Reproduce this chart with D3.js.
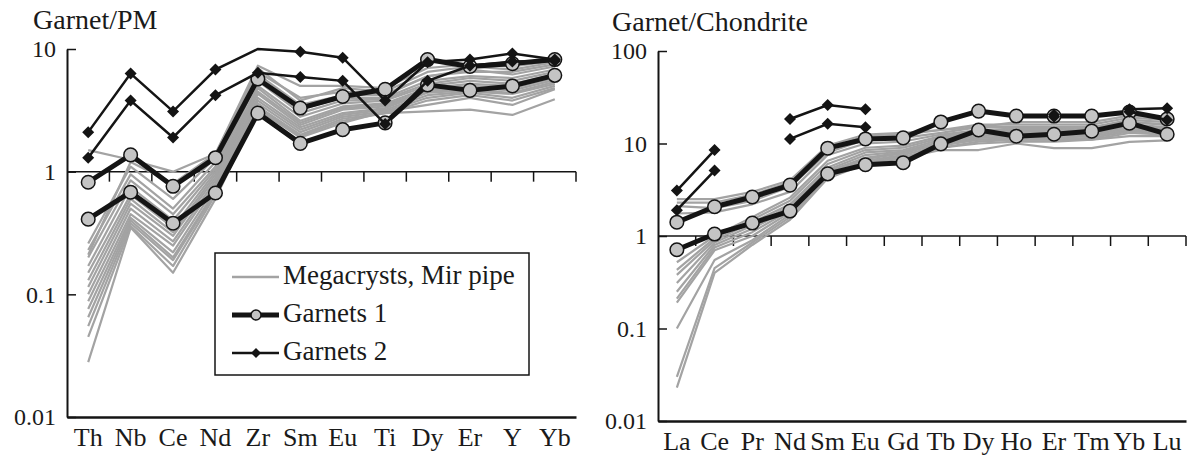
<!DOCTYPE html>
<html>
<head>
<meta charset="utf-8">
<script src="https://cdn.jsdelivr.net/npm/d3@7"></script>
<style>
  html, body { margin: 0; padding: 0; background: #fff; }
  svg { display: block; }
</style>
</head>
<body>
<svg id="chart" width="1191" height="456"></svg>
<script>
// ---------------- DATA ----------------
const pmElements = ["Th", "Nb", "Ce", "Nd", "Zr", "Sm", "Eu", "Ti", "Dy", "Er", "Y", "Yb"];
const chElements = ["La", "Ce", "Pr", "Nd", "Sm", "Eu", "Gd", "Tb", "Dy", "Ho", "Er", "Tm", "Yb", "Lu"];

const pmTicks = [0.01, 0.1, 1, 10];
const pmTickLabels = ["0.01", "0.1", "1", "10"];
const chTicks = [0.01, 0.1, 1, 10, 100];
const chTickLabels = ["0.01", "0.1", "1", "10", "100"];

const legendLabels = ["Megacrysts, Mir pipe", "Garnets 1", "Garnets 2"];
const pmTitle = "Garnet/PM";
const chTitle = "Garnet/Chondrite";

// Megacrysts, Mir pipe (primitive-mantle normalised)
const pmMegacrysts = [
  [1.5, 1.25, 1.0, 1.4, 6.5, 4.0, 4.5, 4.3, 6.0, 6.5, 6.5, 7.5],
  [0.26, 1.1, 0.6, 1.3, 7.0, 3.8, 4.8, 4.5, 6.5, 7.2, 6.8, 7.8],
  [0.23, 0.95, 0.5, 1.2, 6.2, 3.5, 4.2, 4.2, 6.0, 6.8, 6.2, 7.2],
  [0.2, 0.85, 0.45, 1.1, 5.8, 3.2, 4.0, 4.0, 5.5, 6.0, 5.8, 6.8],
  [0.17, 0.75, 0.4, 1.05, 5.5, 3.0, 3.8, 3.9, 5.2, 5.8, 5.5, 6.5],
  [0.15, 0.65, 0.35, 1.0, 5.0, 2.8, 3.6, 3.8, 5.0, 5.5, 5.2, 6.2],
  [0.13, 0.6, 0.32, 0.95, 4.8, 2.6, 3.4, 3.6, 4.8, 5.2, 5.0, 6.0],
  [0.115, 0.55, 0.3, 0.9, 4.5, 2.5, 3.3, 3.5, 4.6, 5.0, 4.8, 5.8],
  [0.1, 0.5, 0.27, 0.85, 4.3, 2.4, 3.2, 3.4, 4.5, 4.8, 4.6, 5.6],
  [0.088, 0.45, 0.25, 0.8, 4.0, 2.3, 3.0, 3.3, 4.4, 4.6, 4.4, 5.4],
  [0.076, 0.42, 0.22, 0.75, 3.8, 2.2, 2.9, 3.2, 4.2, 4.5, 4.3, 5.2],
  [0.065, 0.4, 0.2, 0.7, 3.6, 2.1, 2.8, 3.1, 4.0, 4.4, 4.0, 5.0],
  [0.055, 0.38, 0.19, 0.68, 3.4, 2.0, 2.7, 3.0, 3.8, 4.2, 3.8, 4.8],
  [0.045, 0.36, 0.17, 0.65, 3.3, 1.95, 2.6, 3.0, 3.1, 3.2, 2.9, 3.9],
  [0.028, 0.35, 0.15, 0.6, 3.2, 1.9, 2.5, 3.1, 3.5, 4.0, 3.5, 4.7],
  [0.21, 1.2, 0.8, 1.4, 7.3, 5.0, 5.0, 4.8, 7.0, 7.5, 7.2, 8.0]
];
// Garnets 1 (PM)
const pmGarnets1a = [0.82, 1.37, 0.76, 1.3, 5.7, 3.3, 4.1, 4.7, 8.2, 7.2, 7.6, 8.2];
const pmGarnets1b = [0.41, 0.68, 0.38, 0.67, 3.0, 1.7, 2.2, 2.5, 5.1, 4.6, 5.0, 6.1];
// Garnets 2 (PM)
const pmGarnets2a = [2.1, 6.3, 3.1, 6.8, 10.0, 9.5, 8.5, 3.8, 7.8, 8.2, 9.2, 8.2];
const pmGarnets2b = [1.3, 3.8, 1.9, 4.2, 6.4, 5.9, 5.5, 2.45, 5.5, 7.3, 7.9, 8.0];
const pmGarnets2aUnmarked = ["Zr"];

// Megacrysts, Mir pipe (chondrite normalised)
const chMegacrysts = [
  [2.5, 2.5, 3.0, 4.0, 9.5, 12.5, 13, 14, 15, 17, 17, 17, 20, 19],
  [2.3, 2.3, 2.8, 3.8, 9.0, 12, 12.5, 14, 16, 16, 16, 16, 19, 18],
  [2.1, 2.0, 2.4, 3.4, 8.0, 11, 11.5, 13, 15, 15, 15, 15, 18, 17],
  [1.75, 1.8, 2.2, 3.0, 7.5, 10, 10.5, 12.5, 14, 14.5, 14.5, 15, 17, 16],
  [0.52, 1.0, 1.6, 2.6, 6.5, 9, 9.5, 12, 13.5, 14, 14, 14.5, 17, 16],
  [0.43, 0.95, 1.5, 2.4, 6.0, 8.5, 9.0, 11.5, 13, 13.5, 13.5, 14, 16, 15],
  [0.38, 0.9, 1.4, 2.2, 5.5, 8.0, 8.5, 11, 12.5, 13, 13, 13.5, 15.5, 14.5],
  [0.31, 0.85, 1.3, 2.1, 5.2, 7.5, 8.2, 10.5, 12, 12.5, 12.5, 13, 15, 14],
  [0.25, 0.8, 1.2, 2.0, 5.0, 7.0, 8.0, 10, 11.5, 12, 12, 12.5, 14.5, 14],
  [0.21, 0.75, 1.1, 1.9, 4.8, 6.8, 7.8, 10, 11, 11.5, 11.5, 12, 14, 13],
  [0.19, 0.7, 1.0, 1.8, 4.6, 6.5, 7.5, 9.5, 11, 11, 11, 11.5, 13.5, 13],
  [0.1, 0.55, 0.9, 1.7, 4.5, 6.5, 7.2, 9, 10.5, 11, 11, 11, 13, 12.5],
  [0.03, 0.45, 0.85, 1.6, 4.3, 6.2, 7.0, 8.5, 8.5, 10, 8.9, 8.9, 10.4, 10.8],
  [0.023, 0.4, 0.8, 1.5, 4.2, 6.0, 7.0, 9.0, 10, 10.5, 10.5, 11, 12, 12]
];
// Garnets 1 (chondrite)
const chGarnets1a = [1.41, 2.07, 2.64, 3.55, 8.9, 11.2, 11.5, 17.1, 22.4, 19.8, 19.8, 19.8, 21.9, 18.4];
const chGarnets1b = [0.71, 1.05, 1.38, 1.86, 4.7, 5.9, 6.2, 9.9, 14.0, 12.0, 12.6, 13.6, 16.6, 12.6];
// Garnets 2 (chondrite) - null = not analysed
const chGarnets2a = [3.1, 8.5, null, 18.4, 26, 23.5, null, null, null, null, 20.5, null, 23.5, 24];
const chGarnets2b = [1.9, 5.1, null, 11.2, 16.3, 15.0, null, null, null, null, 19.5, null, 22, 18];

// ---------------- DRAWING ----------------
const FONT = "'Liberation Serif', 'DejaVu Serif', 'Noto Serif', serif";
const svg = d3.select("#chart").attr("font-family", FONT);
svg.append("rect").attr("width", 1191).attr("height", 456).attr("fill", "#fff");

const GRAY = "#a3a3a3";
const DARK = "#141414";
const CIRCLE_FILL = "#c4c4c4";
const TXT = "#1a1a1a";

function styleText(sel, size) {
  sel.attr("font-size", size).attr("font-family", FONT)
    .style("font-family", FONT).attr("fill", TXT);
}

function diamondPath(h) { return `M0,${-h}L${h},0L0,${h}L${-h},0Z`; }

function drawPanel(cfg) {
  const g = svg.append("g");
  const x = d3.scaleBand().domain(cfg.elements).range(cfg.xRange).paddingInner(0).paddingOuter(0);
  const y = d3.scaleLog().domain(cfg.yDomain).range(cfg.yRange);
  const cx = e => x(e) + x.bandwidth() / 2;

  // Title
  styleText(g.append("text").attr("x", cfg.titleX).attr("y", cfg.titleY).text(cfg.title), 28);

  // Y axis
  const yAxis = d3.axisLeft(y).tickValues(cfg.ticks)
    .tickFormat((d, i) => cfg.tickLabels[i])
    .tickSize(-9).tickSizeOuter(0).tickPadding(11);
  const ya = g.append("g").attr("transform", `translate(${cfg.xRange[0]},0)`).call(yAxis);
  ya.attr("font-family", FONT);
  ya.select(".domain").attr("stroke", DARK).attr("stroke-width", 2);
  ya.selectAll(".tick line").attr("stroke", DARK).attr("stroke-width", 1.5);
  styleText(ya.selectAll(".tick text"), 24);

  // Bottom axis (category labels)
  const xAxis = d3.axisBottom(x).tickSize(0).tickSizeOuter(0).tickPadding(11);
  const xa = g.append("g").attr("transform", `translate(0,${cfg.yRange[0]})`).call(xAxis);
  xa.attr("font-family", FONT);
  xa.select(".domain").attr("stroke", DARK).attr("stroke-width", 2.5);
  styleText(xa.selectAll(".tick text"), 26);

  // Reference line at 1 with band-boundary ticks
  const y1 = y(1);
  g.append("line").attr("x1", cfg.xRange[0]).attr("x2", cfg.xRange[1])
    .attr("y1", y1).attr("y2", y1).attr("stroke", DARK).attr("stroke-width", 1.5);
  const bounds = cfg.elements.slice(1).map(e => x(e)).concat([cfg.xRange[1]]);
  g.selectAll(".btick").data(bounds).join("line")
    .attr("x1", d => d).attr("x2", d => d).attr("y1", y1).attr("y2", y1 + 10)
    .attr("stroke", DARK).attr("stroke-width", 1.5);

  const line = d3.line()
    .defined(d => d.v != null)
    .x(d => cx(d.e)).y(d => y(d.v));
  const toPts = arr => arr.map((v, i) => ({ e: cfg.elements[i], v }));

  // Megacrysts
  g.selectAll(".mega").data(cfg.mega).join("path")
    .attr("d", d => line(toPts(d)))
    .attr("fill", "none").attr("stroke", GRAY).attr("stroke-width", 2.2)
    .attr("stroke-linejoin", "round");

  // Garnets 1
  cfg.g1.forEach(s => {
    g.append("path").attr("d", line(toPts(s)))
      .attr("fill", "none").attr("stroke", DARK).attr("stroke-width", 5)
      .attr("stroke-linejoin", "round");
  });
  cfg.g1.forEach(s => {
    g.selectAll(null).data(toPts(s).filter(d => d.v != null)).join("circle")
      .attr("cx", d => cx(d.e)).attr("cy", d => y(d.v)).attr("r", 6.8)
      .attr("fill", CIRCLE_FILL).attr("stroke", DARK).attr("stroke-width", 1.5);
  });

  // Garnets 2
  cfg.g2.forEach((s, k) => {
    g.append("path").attr("d", line(toPts(s)))
      .attr("fill", "none").attr("stroke", DARK).attr("stroke-width", 2.5)
      .attr("stroke-linejoin", "miter");
    const skip = (cfg.g2Unmarked && cfg.g2Unmarked[k]) || [];
    g.selectAll(null).data(toPts(s).filter(d => d.v != null && !skip.includes(d.e))).join("path")
      .attr("transform", d => `translate(${cx(d.e)},${y(d.v)})`)
      .attr("d", diamondPath(6)).attr("fill", DARK);
  });

  return { g, x, y };
}

drawPanel({
  elements: pmElements, xRange: [67, 576], yDomain: [0.01, 10], yRange: [417, 49],
  ticks: pmTicks, tickLabels: pmTickLabels, title: pmTitle, titleX: 33, titleY: 29,
  mega: pmMegacrysts, g1: [pmGarnets1a, pmGarnets1b], g2: [pmGarnets2a, pmGarnets2b],
  g2Unmarked: [pmGarnets2aUnmarked, []]
});

drawPanel({
  elements: chElements, xRange: [658, 1186], yDomain: [0.01, 100], yRange: [421, 51],
  ticks: chTicks, tickLabels: chTickLabels, title: chTitle, titleX: 612, titleY: 31,
  mega: chMegacrysts, g1: [chGarnets1a, chGarnets1b], g2: [chGarnets2a, chGarnets2b]
});

// Legend
const lg = svg.append("g");
lg.append("rect").attr("x", 215).attr("y", 253).attr("width", 314).attr("height", 122)
  .attr("fill", "#fff").attr("stroke", DARK).attr("stroke-width", 1.5);
const legendY = [277, 315, 353];
const legendTypes = ["mega", "g1", "g2"];
legendTypes.forEach((t, i) => {
  const yy = legendY[i];
  lg.append("line").attr("x1", 232).attr("x2", 279).attr("y1", yy).attr("y2", yy)
    .attr("stroke", t === "mega" ? GRAY : DARK)
    .attr("stroke-width", t === "mega" ? 2.5 : (t === "g1" ? 5 : 2.5));
  if (t === "g1") {
    lg.append("circle").attr("cx", 256).attr("cy", yy).attr("r", 5)
      .attr("fill", CIRCLE_FILL).attr("stroke", DARK).attr("stroke-width", 1.5);
  }
  if (t === "g2") {
    lg.append("path").attr("transform", `translate(256,${yy})`).attr("d", diamondPath(5)).attr("fill", DARK);
  }
  styleText(lg.append("text").attr("x", 283).attr("y", yy + 7).text(legendLabels[i]), 27);
});
</script>
</body>
</html>
